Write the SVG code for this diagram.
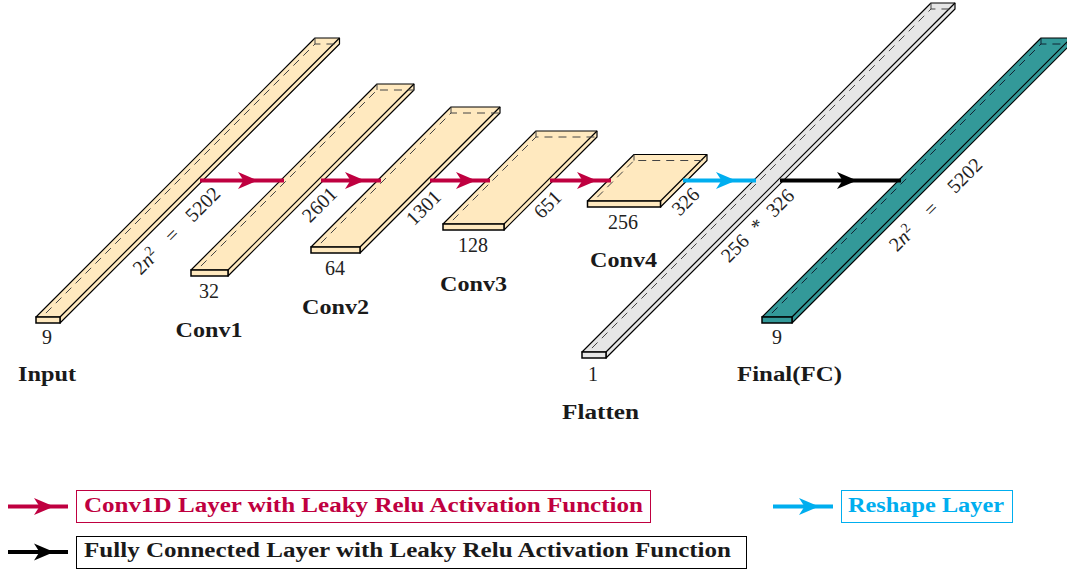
<svg xmlns="http://www.w3.org/2000/svg" width="1067" height="572" viewBox="0 0 1067 572">
<style>
.face{stroke:#000;stroke-width:1.2;stroke-linejoin:round}
.front{stroke:#000;stroke-width:1.5;stroke-linejoin:miter}
.hid{fill:none;stroke:#444;stroke-width:1;stroke-dasharray:8 6}
.cream{fill:#FFE9BF}.gray{fill:#E6E6E6}.teal{fill:#339999}
text{font-family:"Liberation Serif","Times New Roman",serif;fill:#222;font-size:20px}
.n{text-anchor:middle}
.b{font-weight:bold;fill:#1a1a1a}
.arrow{fill:none;stroke-width:4}
.r{stroke:#BF0040}.u{stroke:#00AEEF}.k{stroke:#000}
.box{fill:#fff;stroke-width:1}
</style>
<defs>
<marker id="hr" markerUnits="userSpaceOnUse" markerWidth="24" markerHeight="20" refX="20" refY="10" orient="auto" overflow="visible"><path d="M0 1.5L20 10L0 18.500L5.500 10Z" fill="#BF0040"/></marker>
<marker id="hu" markerUnits="userSpaceOnUse" markerWidth="24" markerHeight="20" refX="20" refY="10" orient="auto" overflow="visible"><path d="M0 1.5L20 10L0 18.500L5.500 10Z" fill="#00AEEF"/></marker>
<marker id="hk" markerUnits="userSpaceOnUse" markerWidth="24" markerHeight="20" refX="20" refY="10" orient="auto" overflow="visible"><path d="M0 1.5L20 10L0 18.500L5.500 10Z" fill="#000"/></marker>
</defs>

<g id="input">
<path class="face cream" d="M36 317L315 38H339.500V44L60 323V317Z"/><path class="face" fill="none" d="M60 317L339.500 38"/>
<path class="hid" d="M36 323L315 44H339.500M315 38V44"/>
<rect class="front cream" x="36" y="317" width="24" height="6"/>
<text class="n" x="47" y="344">9</text>
<text class="b" x="18" y="381" textLength="58" lengthAdjust="spacingAndGlyphs">Input</text>
<text transform="translate(177 231) rotate(-45)" class="n" dy="6" style="word-spacing:13px">2<tspan font-style="italic">n</tspan><tspan dy="-7" font-size="14">2</tspan><tspan dy="7"> = 5202</tspan></text>
</g>

<g id="conv1">
<path class="face cream" d="M191 270L377 84H414V90L228 276V270Z"/><path class="face" fill="none" d="M228 270L414 84"/>
<path class="hid" d="M191 276L377 90H414M377 84V90"/>
<rect class="front cream" x="191" y="270" width="37" height="6"/>
<text class="n" x="209" y="298">32</text>
<text class="b" x="175.500" y="337" textLength="67" lengthAdjust="spacingAndGlyphs">Conv1</text>
<text transform="translate(320 205) rotate(-45)" class="n" dy="6">2601</text>
</g>

<g id="conv2">
<path class="face cream" d="M311 247L451 107H500V113L360 253V247Z"/><path class="face" fill="none" d="M360 247L500 107"/>
<path class="hid" d="M311 253L451 113H500M451 107V113"/>
<rect class="front cream" x="311" y="247" width="49" height="6"/>
<text class="n" x="335" y="275">64</text>
<text class="b" x="302" y="314" textLength="67" lengthAdjust="spacingAndGlyphs">Conv2</text>
<text transform="translate(424 208) rotate(-45)" class="n" dy="6">1301</text>
</g>

<g id="conv3">
<path class="face cream" d="M443 224L536 131H597V137L504 230V224Z"/><path class="face" fill="none" d="M504 224L597 131"/>
<path class="hid" d="M443 230L536 137H597M536 131V137"/>
<rect class="front cream" x="443" y="224" width="61" height="6"/>
<text class="n" x="473" y="252">128</text>
<text class="b" x="440" y="291" textLength="67" lengthAdjust="spacingAndGlyphs">Conv3</text>
<text transform="translate(548 205) rotate(-45)" class="n" dy="6">651</text>
</g>

<g id="conv4">
<path class="face cream" d="M587.500 201L634 154.500H707V160.500L660.500 207V201Z"/><path class="face" fill="none" d="M660.500 201L707 154.500"/>
<path class="hid" d="M587.500 207L634 160.500H707M634 154.500V160.500"/>
<rect class="front cream" x="587.500" y="201" width="73" height="6"/>
<text class="n" x="623" y="229">256</text>
<text class="b" x="590" y="267" textLength="67" lengthAdjust="spacingAndGlyphs">Conv4</text>
<text transform="translate(686 202) rotate(-45)" class="n" dy="6">326</text>
</g>

<g id="flatten">
<path class="face gray" d="M582 352L931 3H955V9L606 358V352Z"/><path class="face" fill="none" d="M606 352L955 3"/>
<path class="hid" d="M582 358L931 9H955M931 3V9"/>
<rect class="front gray" x="582" y="352" width="24" height="6"/>
<text class="n" x="593" y="381">1</text>
<text class="b" x="562" y="419" textLength="77" lengthAdjust="spacingAndGlyphs">Flatten</text>
<text transform="translate(758 226) rotate(-45)" class="n" dy="6" style="word-spacing:7px">256 * 326</text>
</g>

<g id="final">
<path class="face teal" d="M762 317L1041 38H1071V44L792 323V317Z"/><path class="face" fill="none" d="M792 317L1071 38"/>
<path class="hid" style="stroke:#123" d="M762 323L1041 44H1071M1041 38V44"/>
<rect class="front teal" x="762" y="317" width="30" height="6"/>
<text class="n" x="777" y="344">9</text>
<text class="b" x="737" y="381" textLength="105" lengthAdjust="spacingAndGlyphs">Final(FC)</text>
<text transform="translate(936 205) rotate(-45)" class="n" dy="6" style="word-spacing:17px">2<tspan font-style="italic">n</tspan><tspan dy="-7" font-size="14">2</tspan><tspan dy="7"> = 5202</tspan></text>
</g>

<g id="connectors">
<polyline class="arrow r" points="200,180.500 258,180.500 284,180.500" marker-mid="url(#hr)"/>
<polyline class="arrow r" points="321,180.500 365,180.500 381,180.500" marker-mid="url(#hr)"/>
<polyline class="arrow r" points="430,180.500 476,180.500 490,180.500" marker-mid="url(#hr)"/>
<polyline class="arrow r" points="550,180.500 597,180.500 611,180.500" marker-mid="url(#hr)"/>
<polyline class="arrow u" points="683,180.500 736,180.500 756,180.500" marker-mid="url(#hu)"/>
<polyline class="arrow k" points="780,180.500 857,180.500 901,180.500" marker-mid="url(#hk)"/>
</g>

<g id="legend-conv">
<polyline class="arrow r" points="8,506.500 54,506.500 68,506.500" marker-mid="url(#hr)"/>
<rect class="box" stroke="#BF0040" x="76.500" y="490.500" width="574" height="32"/>
<text class="b" style="fill:#BF0040" x="84" y="512" textLength="559" lengthAdjust="spacingAndGlyphs">Conv1D Layer with Leaky Relu Activation Function</text>
</g>
<g id="legend-fc">
<polyline class="arrow k" points="8,552 54,552 68,552" marker-mid="url(#hk)"/>
<rect class="box" stroke="#000" x="76.500" y="536.500" width="670" height="32"/>
<text class="b" x="84" y="557" textLength="647" lengthAdjust="spacingAndGlyphs">Fully Connected Layer with Leaky Relu Activation Function</text>
</g>
<g id="legend-reshape">
<polyline class="arrow u" points="773,506.500 819,506.500 833,506.500" marker-mid="url(#hu)"/>
<rect class="box" stroke="#00AEEF" x="841.500" y="490.500" width="171" height="32"/>
<text class="b" style="fill:#00AEEF" x="848" y="512" textLength="156" lengthAdjust="spacingAndGlyphs">Reshape Layer</text>
</g>
</svg>
